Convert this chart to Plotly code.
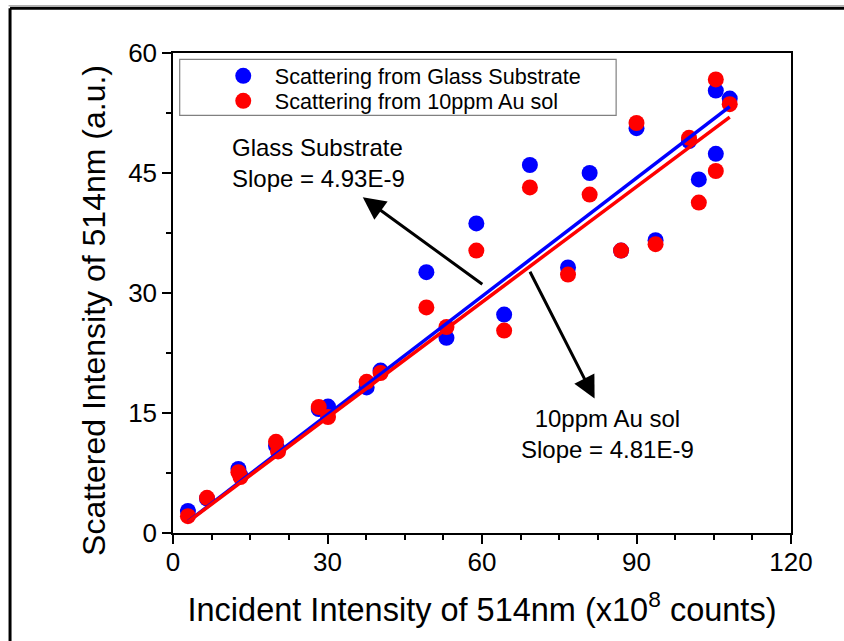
import plotly.graph_objects as go

# ---- data ----
incident = [2.9, 6.6, 12.7, 13.1, 20.0, 20.4, 28.3, 30.1, 37.6, 40.3, 49.2, 53.1, 58.9,
            64.3, 69.3, 76.7, 80.9, 87.0, 90.0, 93.7, 100.2, 102.1, 105.4, 105.4, 108.1]
glass = [2.75, 4.3, 8.0, 7.2, 10.9, 10.4, 15.5, 15.8, 18.2, 20.3, 32.6, 24.4, 38.7,
         27.3, 46.0, 33.2, 45.0, 35.3, 50.6, 36.6, 49.0, 44.2, 55.3, 47.4, 54.3]
ausol = [2.1, 4.4, 7.6, 7.0, 11.4, 10.2, 15.75, 14.5, 18.9, 20.0, 28.2, 25.75, 35.3,
         25.3, 43.2, 32.3, 42.3, 35.3, 51.25, 36.1, 49.4, 41.3, 56.7, 45.25, 53.6]
slope_glass = 0.493   # 4.93E-9 per count -> per 1e8 counts
slope_au = 0.481      # 4.81E-9
fit_x = [min(incident), max(incident)]

series_names = ["Scattering from Glass Substrate", "Scattering from 10ppm Au sol"]
x_title = "Incident Intensity of 514nm (x10<sup>8</sup> counts)"
y_title = "Scattered Intensity of 514nm (a.u.)"
x_ticks = [0, 30, 60, 90, 120]
y_ticks = [0, 15, 30, 45, 60]

FONT = "Arial, Liberation Sans, sans-serif"
BLUE = "#0000FF"
RED = "#FF0000"

W, H = 844, 641
L, R, T, B = 173.3, 53.3, 52.7, 108.3
pw, ph = W - L - R, H - T - B
def px(xp):
    return (xp - L) / pw
def py(yp):
    return (H - B - yp) / ph

fig = go.Figure()
fig.add_trace(go.Scatter(x=incident, y=glass, mode="markers", name=series_names[0],
                         legend="legend",
                         marker=dict(color=BLUE, size=16, line=dict(width=0))))
fig.add_trace(go.Scatter(x=incident, y=ausol, mode="markers", name=series_names[1],
                         legend="legend2",
                         marker=dict(color=RED, size=16, line=dict(width=0))))
fig.add_trace(go.Scatter(x=fit_x, y=[slope_glass * v for v in fit_x], mode="lines",
                         line=dict(color=BLUE, width=3.5), showlegend=False))
fig.add_trace(go.Scatter(x=fit_x, y=[slope_au * v for v in fit_x], mode="lines",
                         line=dict(color=RED, width=3.5), showlegend=False))

axis_common = dict(
    showgrid=False, zeroline=False, showline=True, linecolor="black", linewidth=1.5,
    mirror=True, ticks="outside", ticklen=9, tickwidth=1.5, tickcolor="black",
    tickfont=dict(family=FONT, size=26, color="black"),
    minor=dict(ticks="outside", ticklen=5, tickwidth=1.5, tickcolor="black", dtick=7.5),
)
fig.update_xaxes(range=[0, 120], tickvals=x_ticks, ticklabelstandoff=-4, **axis_common,
                 title=dict(text=x_title, font=dict(family=FONT, size=32.5, color="black"),
                            standoff=22))
fig.update_yaxes(range=[0, 60], tickvals=y_ticks, **axis_common)

# y-axis title placed as rotated text (centred slightly below the plot centre, as in reference)
fig.add_annotation(x=px(95), y=py(310), xref="paper", yref="paper", xanchor="center",
                   yanchor="middle", text=y_title, textangle=-90, showarrow=False,
                   font=dict(family=FONT, size=32, color="black"))

# annotations with arrows
fig.add_annotation(x=11.0, y=46.2, xref="x", yref="y", xanchor="left", yanchor="middle",
                   text="Glass Substrate<br>Slope = 4.93E-9", showarrow=False, align="left",
                   font=dict(family=FONT, size=24, color="black"))
fig.add_annotation(x=84.4, y=12.4, xref="x", yref="y", xanchor="center", yanchor="middle",
                   text="10ppm Au sol<br>Slope = 4.81E-9", showarrow=False, align="center",
                   font=dict(family=FONT, size=24, color="black"))
fig.add_annotation(x=36.85, y=41.96, ax=60.35, ay=30.96, xref="x", yref="y", axref="x", ayref="y",
                   text="", showarrow=True, arrowhead=2, arrowsize=1.5, arrowwidth=3,
                   arrowcolor="black")
fig.add_annotation(x=81.86, y=16.8, ax=69.17, ay=32.84, xref="x", yref="y", axref="x", ayref="y",
                   text="", showarrow=True, arrowhead=2, arrowsize=1.5, arrowwidth=3,
                   arrowcolor="black")

shapes = [
    # legend box
    dict(type="rect", xref="paper", yref="paper", x0=px(180), x1=px(616), y0=py(115), y1=py(59),
         line=dict(color="#808080", width=1.2), fillcolor="rgba(0,0,0,0)"),
    # outer frame (top and left)
    dict(type="line", xref="paper", yref="paper", x0=px(10.5), x1=px(900), y0=py(8), y1=py(8),
         line=dict(color="black", width=3)),
    dict(type="line", xref="paper", yref="paper", x0=px(10.5), x1=px(10.5), y0=py(8), y1=py(700),
         line=dict(color="black", width=3)),
    dict(type="line", xref="paper", yref="paper", x0=px(9), x1=px(900), y0=py(5.5), y1=py(5.5),
         line=dict(color="#909090", width=1)),
]
fig.update_layout(shapes=shapes)

legend_common = dict(xanchor="left", yanchor="top", bgcolor="rgba(0,0,0,0)", borderwidth=0,
                     font=dict(family=FONT, size=21.6, color="black"), itemwidth=53)
fig.update_layout(
    width=W, height=H, autosize=False,
    margin=dict(l=L, r=R, t=T, b=B, pad=0),
    paper_bgcolor="white", plot_bgcolor="white",
    font=dict(family=FONT, color="black"),
    legend=dict(x=px(212), y=py(55), **legend_common),
    legend2=dict(x=px(212), y=py(80), **legend_common),
)

fig.write_html("out.html")
